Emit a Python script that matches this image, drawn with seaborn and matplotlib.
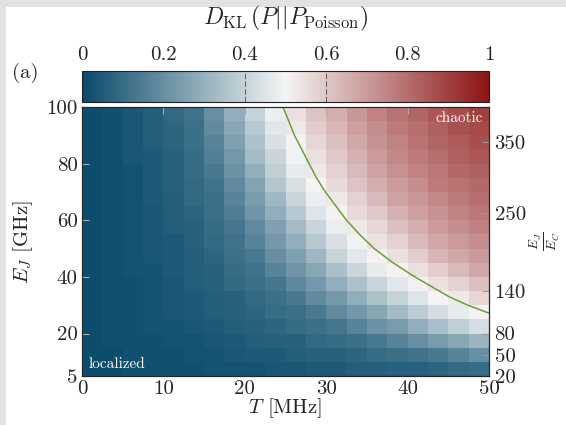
import matplotlib.pyplot as plt
import numpy as np
import pandas as pd
import seaborn as sns
from matplotlib.colors import LinearSegmentedColormap
from matplotlib.patches import Rectangle

# heat map cells: T in MHz (columns), E_J in GHz (rows, top to bottom)
t_mhz = [1.25, 3.75, 6.25, 8.75, 11.25, 13.75, 16.25, 18.75, 21.25, 23.75,
         26.25, 28.75, 31.25, 33.75, 36.25, 38.75, 41.25, 43.75, 46.25, 48.75]
ej_ghz = [97.5, 92.5, 87.5, 82.5, 77.5, 72.5, 67.5, 62.5, 57.5, 52.5,
          47.5, 42.5, 37.5, 32.5, 27.5, 22.5, 17.5, 12.5, 7.5]

# D_KL values in percent
kl_percent = [
    [1, 2, 4, 6, 9, 12, 20, 29, 40, 48, 55, 61, 66, 71, 75, 79, 82, 85, 87, 90],
    [1, 2, 4, 6, 8, 11, 19, 27, 37, 46, 53, 59, 64, 69, 73, 77, 80, 83, 86, 88],
    [1, 2, 4, 6, 8, 11, 17, 25, 35, 44, 51, 57, 62, 67, 72, 75, 79, 82, 84, 87],
    [1, 2, 4, 5, 7, 10, 16, 23, 33, 41, 49, 55, 60, 65, 70, 74, 77, 80, 83, 85],
    [1, 2, 3, 5, 7, 10, 14, 21, 29, 39, 47, 53, 58, 63, 68, 72, 75, 78, 81, 83],
    [1, 2, 3, 5, 7, 9, 12, 19, 26, 36, 44, 50, 56, 61, 66, 70, 73, 77, 79, 81],
    [1, 2, 3, 5, 6, 9, 11, 17, 24, 32, 41, 48, 53, 58, 63, 68, 71, 74, 77, 80],
    [1, 2, 3, 4, 6, 8, 11, 15, 22, 29, 37, 45, 51, 56, 60, 65, 69, 72, 75, 78],
    [1, 2, 3, 4, 6, 7, 10, 13, 19, 25, 33, 41, 48, 53, 57, 62, 66, 70, 73, 76],
    [1, 2, 3, 4, 5, 7, 9, 12, 17, 23, 29, 37, 44, 49, 54, 58, 63, 67, 70, 73],
    [1, 2, 3, 4, 5, 6, 8, 11, 14, 20, 25, 32, 40, 46, 51, 55, 59, 64, 67, 70],
    [1, 2, 3, 3, 5, 6, 7, 10, 12, 17, 22, 27, 34, 41, 47, 51, 55, 59, 63, 67],
    [1, 2, 2, 3, 4, 6, 7, 9, 11, 13, 18, 23, 29, 35, 41, 46, 51, 55, 58, 62],
    [1, 2, 2, 3, 4, 5, 6, 7, 9, 11, 14, 19, 23, 29, 35, 40, 45, 50, 53, 57],
    [1, 2, 2, 3, 4, 5, 6, 7, 8, 10, 11, 14, 19, 23, 27, 33, 38, 43, 47, 51],
    [1, 2, 2, 3, 3, 4, 5, 6, 7, 8, 10, 11, 13, 17, 21, 24, 29, 34, 39, 43],
    [1, 2, 2, 2, 3, 3, 4, 5, 6, 7, 7, 9, 10, 11, 14, 17, 20, 24, 27, 31],
    [1, 1, 2, 2, 2, 3, 3, 4, 5, 5, 6, 7, 7, 8, 10, 11, 12, 14, 17, 20],
    [1, 1, 2, 2, 2, 2, 3, 3, 3, 4, 4, 5, 5, 6, 6, 7, 7, 8, 9, 10],
]

# green boundary line
line_ej = [100, 95, 90, 85, 80, 75, 70, 65, 60, 55, 50, 45, 40, 36, 33, 30, 27.2]
line_t = [24.7, 25.4, 26.1, 27.0, 27.9, 28.8, 29.9, 31.2, 32.5, 34.1, 35.9,
          38.2, 40.9, 43.3, 45.1, 47.4, 50.0]

t_ticks = [0, 10, 20, 30, 40, 50]
ej_ticks = [5, 20, 40, 60, 80, 100]
ratio_ticks = [20, 50, 80, 140, 250, 350]
cbar_ticks = [0, 0.2, 0.4, 0.6, 0.8, 1]
cbar_labels = ['0', '0.2', '0.4', '0.6', '0.8', '1']
e_c = 0.25  # GHz

sns.set_style('white')
plt.rcParams['font.family'] = 'serif'
plt.rcParams['font.serif'] = ['cmr10', 'DejaVu Serif']
plt.rcParams['mathtext.fontset'] = 'cm'
plt.rcParams['axes.unicode_minus'] = False

W, H = 566, 425
fig = plt.figure(figsize=(W / 100, H / 100), dpi=100, facecolor='#e2e2e2')
fig.patches.append(Rectangle((6 / W, 0), 1, 1 - 7 / H, transform=fig.transFigure,
                             facecolor='white', edgecolor='none', zorder=-10))


def rect(x0, y0, x1, y1):
    return [x0 / W, 1 - y1 / H, (x1 - x0) / W, (y1 - y0) / H]


ax = fig.add_axes(rect(82, 107, 489, 376))
cax = fig.add_axes(rect(82, 71, 489, 102))

cmap = LinearSegmentedColormap.from_list('kl', ['#084a6a', '#f5f5f5', '#8c1414'])
df = pd.DataFrame(np.array(kl_percent) / 100, index=ej_ghz, columns=t_mhz)
sns.heatmap(df, ax=ax, cbar_ax=cax, cmap=cmap, vmin=0, vmax=1,
            xticklabels=False, yticklabels=False,
            cbar_kws={'orientation': 'horizontal'})
ax.set_xlabel('')
ax.set_ylabel('')

# colorbar
cb = ax.collections[0].colorbar
cb.outline.set_linewidth(0.8)
cb.outline.set_edgecolor('#222222')
cax.xaxis.set_ticks_position('top')
cax.set_xticks(cbar_ticks)
cax.set_xticklabels(cbar_labels)
cax.tick_params(axis='x', length=0, pad=5, labelsize=15)
for v in (0.4, 0.6):
    cax.axvline(v, color='#666666', lw=0.8, ls=(0, (5, 2)))
fig.text(285.5 / W, 1 - 18 / H, r'$D_{\rm KL}\,(P||P_{\rm Poisson})$',
         ha='center', va='center', fontsize=17)
fig.text(12 / W, 1 - 73 / H, '(a)', ha='left', va='center', fontsize=15)

# data axes on top of the heat map
ax2 = fig.add_axes(ax.get_position(), facecolor='none', label='data')
ax2.plot(line_t, line_ej, color='#6e9e3a', lw=1.1)
ax2.set_xlim(0, 50)
ax2.set_ylim(5, 100)
ax2.set_xticks(t_ticks)
ax2.set_yticks(ej_ticks)
ax2.tick_params(direction='in', length=5, width=0.8, color='#aaaaaa',
                top=True, labelsize=15, pad=3)
ax2.set_xlabel(r'$T$ [MHz]', fontsize=15, labelpad=-1)
ax2.set_ylabel(r'$E_J$ [GHz]', fontsize=15, labelpad=8)
for s in ax2.spines.values():
    s.set_linewidth(0.8)
    s.set_color('#222222')

ax3 = ax2.twinx()
ax3.set_ylim(5 / e_c, 100 / e_c)
ax3.set_yticks(ratio_ticks)
ax3.tick_params(direction='in', length=5, width=0.8, color='#999999',
                labelsize=15, pad=4)
ax3.set_ylabel(r'$\frac{E_J}{E_C}$', fontsize=14, labelpad=1)

ax2.text(0.015, 0.02, 'localized', transform=ax2.transAxes, color='white',
         fontsize=11, ha='left', va='bottom')
ax2.text(0.985, 0.985, 'chaotic', transform=ax2.transAxes, color='white',
         fontsize=11, ha='right', va='top')

fig.savefig('out.png', dpi=100, facecolor=fig.get_facecolor())
